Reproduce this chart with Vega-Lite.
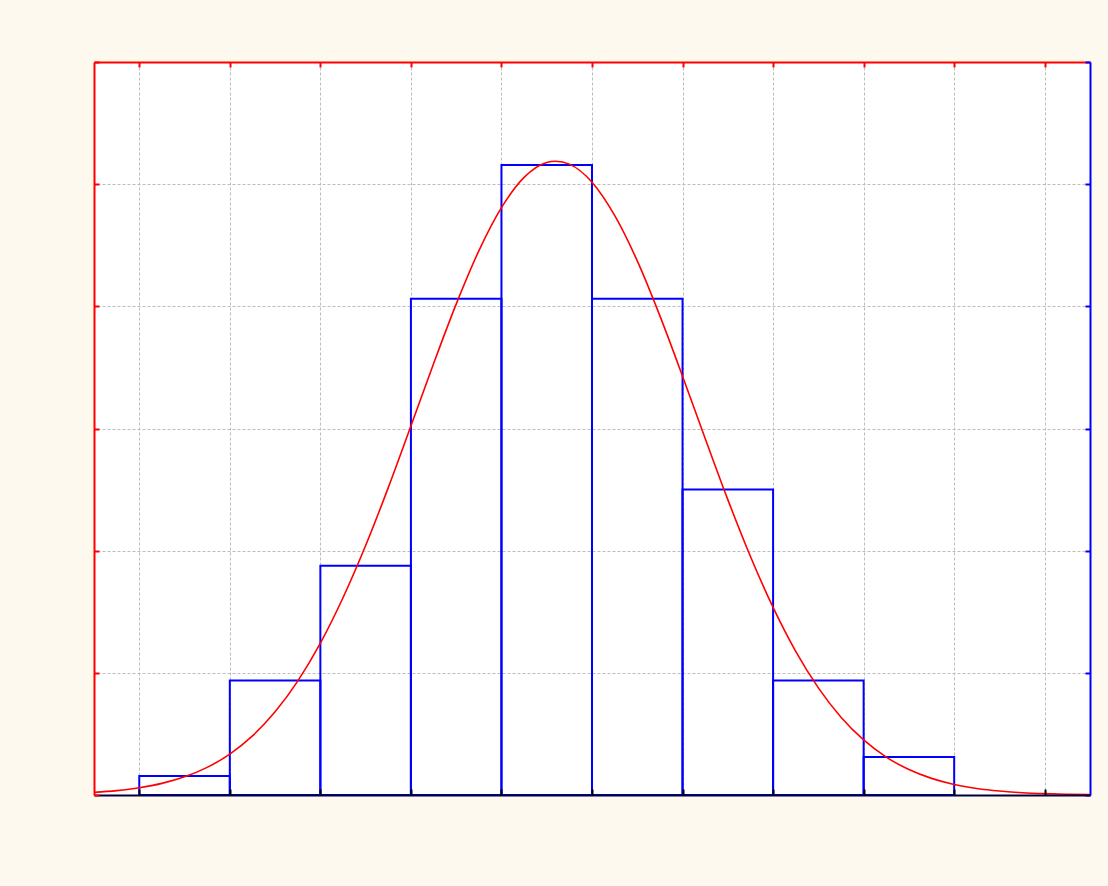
{
  "$schema": "https://vega.github.io/schema/vega-lite/v6.json",
  "width": 996,
  "height": 733,
  "autosize": {"type": "none"},
  "padding": {"left": 94, "top": 62, "right": 18, "bottom": 91},
  "background": "#FEF9EE",
  "config": {"view": {"fill": "white", "stroke": null}},
  "datasets": {
    "bins": [
      {"bin_start": 0, "bin_end": 1, "percent": 0.78, "base": 0},
      {"bin_start": 1, "bin_end": 2, "percent": 4.69, "base": 0},
      {"bin_start": 2, "bin_end": 3, "percent": 9.38, "base": 0},
      {"bin_start": 3, "bin_end": 4, "percent": 20.31, "base": 0},
      {"bin_start": 4, "bin_end": 5, "percent": 25.78, "base": 0},
      {"bin_start": 5, "bin_end": 6, "percent": 20.31, "base": 0},
      {"bin_start": 6, "bin_end": 7, "percent": 12.5, "base": 0},
      {"bin_start": 7, "bin_end": 8, "percent": 4.69, "base": 0},
      {"bin_start": 8, "bin_end": 9, "percent": 1.56, "base": 0}
    ],
    "curve": [
      {"x": -0.5, "y": 0.106}, {"x": -0.25, "y": 0.18}, {"x": 0, "y": 0.296}, {"x": 0.25, "y": 0.475},
      {"x": 0.5, "y": 0.743}, {"x": 0.75, "y": 1.13}, {"x": 1, "y": 1.675}, {"x": 1.25, "y": 2.419},
      {"x": 1.5, "y": 3.403}, {"x": 1.75, "y": 4.659}, {"x": 2, "y": 6.215}, {"x": 2.25, "y": 8.073},
      {"x": 2.5, "y": 10.21}, {"x": 2.75, "y": 12.58}, {"x": 3, "y": 15.1}, {"x": 3.25, "y": 17.65},
      {"x": 3.5, "y": 20.09}, {"x": 3.75, "y": 22.27}, {"x": 4, "y": 24.04}, {"x": 4.25, "y": 25.28},
      {"x": 4.5, "y": 25.89}, {"x": 4.6, "y": 25.94}, {"x": 4.75, "y": 25.82}, {"x": 5, "y": 25.08},
      {"x": 5.25, "y": 23.72}, {"x": 5.5, "y": 21.86}, {"x": 5.75, "y": 19.61}, {"x": 6, "y": 17.14},
      {"x": 6.25, "y": 14.59}, {"x": 6.5, "y": 12.09}, {"x": 6.75, "y": 9.763}, {"x": 7, "y": 7.676},
      {"x": 7.25, "y": 5.878}, {"x": 7.5, "y": 4.384}, {"x": 7.75, "y": 3.185}, {"x": 8, "y": 2.253},
      {"x": 8.25, "y": 1.552}, {"x": 8.5, "y": 1.041}, {"x": 8.75, "y": 0.68}, {"x": 9, "y": 0.433},
      {"x": 9.25, "y": 0.269}, {"x": 9.5, "y": 0.162}, {"x": 9.75, "y": 0.095}, {"x": 10, "y": 0.055},
      {"x": 10.25, "y": 0.03}, {"x": 10.5, "y": 0.017}
    ]
  },
  "resolve": {"axis": {"x": "independent", "y": "independent"}},
  "layer": [
    {
      "data": {"name": "bins"},
      "mark": {"type": "rect", "fill": "white", "fillOpacity": 0, "stroke": "#0000FF", "strokeWidth": 2},
      "encoding": {
        "x": {
          "field": "bin_start", "type": "quantitative",
          "scale": {"domain": [-0.5, 10.5], "nice": false, "zero": false},
          "axis": {
            "orient": "bottom", "values": [0,1,2,3,4,5,6,7,8,9,10], "labels": false, "title": null,
            "domainColor": "#00003C", "domainWidth": 2, "tickColor": "#000000", "tickWidth": 2, "tickSize": -6,
            "grid": false, "zindex": 1
          }
        },
        "x2": {"field": "bin_end"},
        "y": {
          "field": "percent", "type": "quantitative",
          "scale": {"domain": [0, 30], "nice": false},
          "axis": {
            "orient": "left", "values": [0,5,10,15,20,25,30], "labels": false, "title": null,
            "domainColor": "#FF0000", "domainWidth": 2, "tickColor": "#FF0000", "tickWidth": 2, "tickSize": -5,
            "grid": false, "zindex": 1
          }
        },
        "y2": {"field": "base"}
      }
    },
    {
      "data": {"name": "curve"},
      "mark": {"type": "line", "color": "#FF0000", "strokeWidth": 1.6, "interpolate": "monotone"},
      "encoding": {
        "x": {
          "field": "x", "type": "quantitative",
          "axis": {
            "orient": "top", "values": [0,1,2,3,4,5,6,7,8,9,10], "labels": false, "title": null,
            "domainColor": "#FF0000", "domainWidth": 2, "tickColor": "#FF0000", "tickWidth": 2, "tickSize": -5,
            "grid": true, "gridColor": "#BDBDBD", "gridDash": [3, 2], "gridWidth": 1, "zindex": 0
          }
        },
        "y": {
          "field": "y", "type": "quantitative",
          "axis": {
            "orient": "right", "values": [0,5,10,15,20,25,30], "labels": false, "title": null,
            "domainColor": "#0000FF", "domainWidth": 2, "tickColor": "#0000FF", "tickWidth": 2, "tickSize": -5,
            "grid": true, "gridColor": "#BDBDBD", "gridDash": [3, 2], "gridWidth": 1, "zindex": 0
          }
        }
      }
    }
  ]
}
